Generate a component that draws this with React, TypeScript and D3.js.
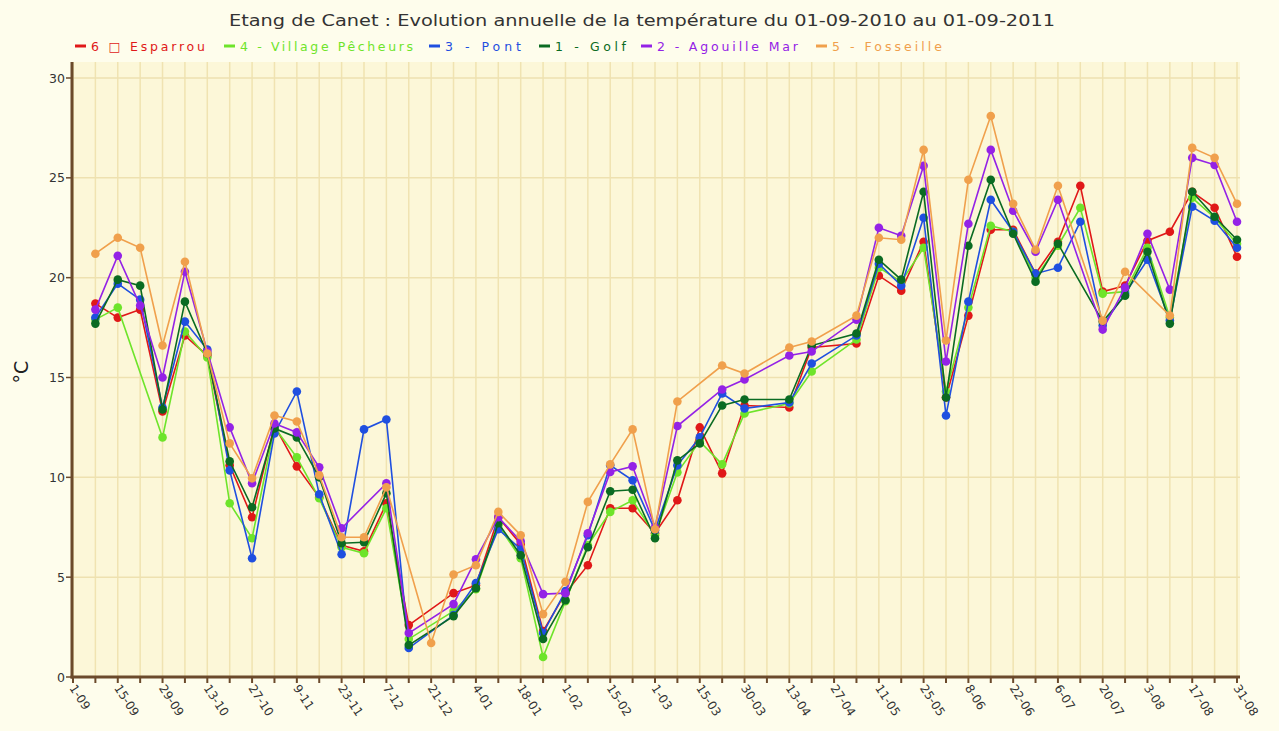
import React from "react";
import * as d3 from "d3";

const W = 1279;
const H = 731;

const weeks = ["1-09","8-09","15-09","22-09","29-09","6-10","13-10","20-10","27-10","2-11","9-11","16-11","23-11","30-11","7-12","14-12","21-12","28-12","4-01","11-01","18-01","25-01","1-02","8-02","15-02","22-02","1-03","8-03","15-03","22-03","30-03","6-04","13-04","20-04","27-04","4-05","11-05","18-05","25-05","1-06","8-06","15-06","22-06","29-06","6-07","13-07","20-07","27-07","3-08","10-08","17-08","24-08","31-08"];

const yTicks = [0, 5, 10, 15, 20, 25, 30];

const esparrou = [null,18.7,18.0,18.4,13.3,17.1,16.1,10.6,8.0,12.6,10.55,9.0,6.6,6.3,8.7,2.6,null,4.2,4.6,8.0,6.65,2.3,4.2,5.6,8.45,8.45,7.2,8.85,12.5,10.2,13.6,null,13.5,16.5,null,16.7,20.1,19.35,21.8,14.0,18.1,22.4,22.4,20.2,21.8,24.6,19.3,19.6,21.85,22.3,24.3,23.5,21.05];
const village = [null,17.9,18.5,null,12.0,17.3,16.0,8.7,6.95,12.5,11.0,8.95,6.5,6.2,8.45,1.9,null,3.3,4.4,7.6,5.95,1.0,3.8,6.6,8.27,8.85,7.1,10.25,11.8,10.65,13.2,null,13.7,15.3,null,16.9,20.5,19.8,21.5,14.3,18.5,22.6,22.3,20.0,21.6,23.5,19.2,19.3,21.5,18.0,24.0,23.0,21.7];
const pont = [null,18.0,19.7,18.9,13.5,17.8,16.4,10.35,5.95,12.2,14.3,9.15,6.15,12.4,12.9,1.45,null,3.1,4.7,7.4,6.4,2.2,4.3,7.1,10.6,9.85,7.35,10.6,12.0,14.2,13.45,null,13.75,15.7,null,17.1,20.7,19.6,23.0,13.1,18.8,23.9,22.3,20.2,20.5,22.8,17.6,19.2,20.9,17.85,23.55,22.85,21.5];
const golf = [null,17.7,19.9,19.6,13.4,18.8,16.2,10.8,8.5,12.45,12.0,10.0,6.7,6.75,9.2,1.6,null,3.05,4.45,7.7,6.1,1.9,3.85,6.5,9.3,9.38,6.95,10.85,11.7,13.6,13.9,null,13.9,16.6,null,17.2,20.9,19.9,24.3,14.0,21.6,24.9,22.2,19.8,21.7,null,17.8,19.1,21.3,17.7,24.3,23.05,21.9];
const agouille = [null,18.4,21.1,18.6,15.0,20.3,16.3,12.5,9.7,12.7,12.25,10.5,7.45,null,9.7,2.2,null,3.65,5.9,8.0,6.8,4.15,4.2,7.2,10.27,10.55,7.5,12.57,null,14.4,14.9,null,16.1,16.3,null,17.9,22.5,22.1,25.6,15.8,22.7,26.4,23.35,21.3,23.9,null,17.4,19.5,22.2,19.4,26.0,25.65,22.8];
const fosseille = [null,21.2,22.0,21.5,16.6,20.8,16.2,11.7,9.95,13.1,12.8,10.1,7.0,7.0,9.5,null,1.7,5.13,5.6,8.27,7.1,3.15,4.77,8.77,10.65,12.4,7.4,13.8,null,15.6,15.2,null,16.5,16.8,null,18.1,22.0,21.9,26.4,16.85,24.9,28.1,23.7,21.4,24.6,null,17.85,20.3,null,18.1,26.5,26.0,23.7];

const seriesNames = ["6 \u25A1 Esparrou", "4 - Village P\u00EAcheurs", "3 - Pont", "1 - Golf", "2 - Agouille Mar", "5 - Fosseille"];
const seriesValues = [esparrou, village, pont, golf, agouille, fosseille];
const seriesColors = ["#e01818", "#6ee42a", "#1f4fe0", "#0b6b22", "#9422e6", "#f0a04c"];

// layout for legend: [markerX, textX, textEnd]
const legendLayout = [
  [75, 91, 205],
  [224, 240, 413],
  [429, 445, 521],
  [539, 555, 626],
  [641, 657, 798],
  [816, 832, 942],
];

export default function App() {
  const left = 73;
  const right = 1237;
  const top = 62;
  const bottom = 677;
  const plotRight = 1240;

  const x = d3.scalePoint<string>().domain(weeks).range([left, right]);
  const y = d3.scaleLinear().domain([0, 30]).range([bottom, 78]);

  const line = d3
    .line<{ i: number; v: number }>()
    .x((d) => x(weeks[d.i]) as number)
    .y((d) => y(d.v));

  const font = "'DejaVu Sans', Verdana, sans-serif";

  return (
    <svg
      width={W}
      height={H}
      style={{ position: "absolute", left: 0, top: 0, display: "block" }}
      xmlns="http://www.w3.org/2000/svg"
    >
      <rect x={0} y={0} width={W} height={H} fill="#fefdec" />
      <rect x={left} y={top} width={plotRight - left} height={bottom - top} fill="#fcf7d8" />

      {/* vertical grid */}
      {weeks.map((w) => (
        <line
          key={"vg" + w}
          x1={x(w)}
          x2={x(w)}
          y1={top}
          y2={bottom}
          stroke="#f0e3b1"
          strokeWidth={1.5}
        />
      ))}
      {/* horizontal grid */}
      {yTicks.map((t) => (
        <line
          key={"hg" + t}
          x1={left}
          x2={plotRight}
          y1={y(t)}
          y2={y(t)}
          stroke="#eee1b0"
          strokeWidth={1.5}
        />
      ))}

      {/* title */}
      <text
        x={642}
        y={26}
        textAnchor="middle"
        fontFamily={font}
        fontSize={16}
        fill="#333"
        textLength={826}
        lengthAdjust="spacingAndGlyphs"
      >
        Etang de Canet : Evolution annuelle de la température du 01-09-2010 au 01-09-2011
      </text>

      {/* legend */}
      {seriesNames.map((name, k) => {
        const [mx, tx, te] = legendLayout[k];
        return (
          <g key={"lg" + k}>
            <line x1={mx} x2={mx + 11} y1={46} y2={46} stroke={seriesColors[k]} strokeWidth={3} />
            <text
              x={tx}
              y={51}
              fontFamily={font}
              fontSize={12.5}
              fill={seriesColors[k]}
              textLength={te - tx}
              lengthAdjust="spacing"
            >
              {name}
            </text>
          </g>
        );
      })}

      {/* y axis label */}
      <text
        transform={`translate(28,372) rotate(-90)`}
        textAnchor="middle"
        fontFamily={font}
        fontSize={19}
        fill="#222"
      >
        °C
      </text>

      {/* series */}
      {seriesValues.map((vals, k) => {
        const pts = vals
          .map((v, i) => ({ i, v }))
          .filter((d) => d.v !== null) as { i: number; v: number }[];
        return (
          <g key={"s" + k}>
            <path d={line(pts) || ""} fill="none" stroke={seriesColors[k]} strokeWidth={1.6} />
            {pts.map((d) => (
              <circle
                key={d.i}
                cx={x(weeks[d.i])}
                cy={y(d.v)}
                r={4.3}
                fill={seriesColors[k]}
              />
            ))}
          </g>
        );
      })}

      {/* axes */}
      <line x1={72} x2={72} y1={top} y2={bottom + 1.5} stroke="#6b4a2b" strokeWidth={3} />
      <line x1={70.5} x2={plotRight} y1={bottom} y2={bottom} stroke="#6b4a2b" strokeWidth={3} />
      {yTicks.map((t) => (
        <g key={"yt" + t}>
          <line x1={66} x2={71} y1={y(t)} y2={y(t)} stroke="#6b4a2b" strokeWidth={1.5} />
          <text
            x={65}
            y={y(t) + 4.5}
            textAnchor="end"
            fontFamily={font}
            fontSize={12.5}
            fill="#333"
          >
            {t}
          </text>
        </g>
      ))}
      {weeks.map((w) => (
        <line
          key={"xt" + w}
          x1={x(w)}
          x2={x(w)}
          y1={bottom}
          y2={bottom + 6}
          stroke="#6b4a2b"
          strokeWidth={2}
        />
      ))}
      {weeks.map((w, i) =>
        i % 2 === 0 ? (
          <text
            key={"xl" + w}
            transform={`translate(${(x(w) as number) - 4},${bottom + 11}) rotate(57)`}
            fontFamily={font}
            fontSize={12}
            fill="#333"
          >
            {w}
          </text>
        ) : null
      )}
    </svg>
  );
}
